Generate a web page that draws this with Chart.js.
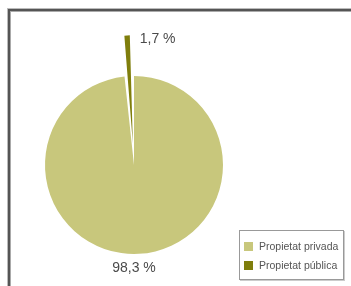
<!DOCTYPE html>
<html><head><meta charset="utf-8">
<script src="https://cdn.jsdelivr.net/npm/chart.js@4"></script>
<style>
html,body{margin:0;padding:0;background:#fff;overflow:hidden}
#wrap{position:relative;width:351px;height:286px}
#frame{position:absolute;left:8px;top:9px;width:400px;height:400px;border:2px solid #555;box-shadow:-1px -1px 0 #bbb, inset 1px 1px 0 #aaa}
canvas{position:absolute;left:0;top:0}
#legend{position:absolute;left:239px;top:230px;width:103px;height:48px;border:1px solid #999;box-shadow:1px 1px 0 #ccc;font-family:"Liberation Sans",Arial,sans-serif;font-size:10.5px;color:#555}
.row{position:absolute;left:4px;height:12px;line-height:12px;white-space:nowrap}
.sw{display:inline-block;width:9px;height:9px;vertical-align:-1px;margin-right:6px}
</style></head>
<body><div id="wrap"><div id="frame"></div><canvas id="c" width="351" height="286"></canvas>
<div id="legend"></div></div>
<script>
const categories = ["Propietat privada", "Propietat pública"];
const values = [98.3, 1.7];
const valueLabels = ["98,3 %", "1,7 %"];
const colors = ["#c8c77c", "#7f7e0c"];

const lg = document.getElementById('legend');
categories.forEach((c,i)=>{
  const d=document.createElement('div');d.className='row';d.style.top=(9+i*19)+'px';
  d.innerHTML='<span class="sw" style="background:'+colors[i]+'"></span>'+c;
  lg.appendChild(d);
});

const labelPlugin = {
  id:'lbl',
  afterDatasetsDraw(chart){
    const ctx=chart.ctx;const meta=chart.getDatasetMeta(0);
    ctx.save();ctx.font='14px "Liberation Sans", Arial, sans-serif';ctx.fillStyle='#4a4a4a';ctx.textBaseline='middle';
    meta.data.forEach((arc,i)=>{
      const p=arc.getProps(['x','y','startAngle','endAngle','outerRadius'],true);
      const off=(arc.options.offset||0)/2;
      const mid=(p.startAngle+p.endAngle)/2;
      const ox=Math.cos(mid)*off, oy=Math.sin(mid)*off;
      if(i===0){
        ctx.textAlign='center';
        const r=p.outerRadius+14;
        ctx.fillText(valueLabels[i], p.x, p.y+Math.sin(mid)*r);
      } else {
        ctx.textAlign='left';
        const ex=p.x+ox+Math.cos(p.endAngle)*p.outerRadius, ey=p.y+oy+Math.sin(p.endAngle)*p.outerRadius;
        ctx.fillText(valueLabels[i], ex+8, ey+6);
      }
    });
    ctx.restore();
  }
};

new Chart(document.getElementById('c'),{
  type:'pie',
  data:{labels:categories,datasets:[{data:values,backgroundColor:colors,borderWidth:0,offset:[0,86]}]},
  options:{responsive:false,animation:false,radius:89,
    layout:{padding:{left:0,right:83,top:44,bottom:0}},
    plugins:{legend:{display:false},tooltip:{enabled:false}}},
  plugins:[labelPlugin]
});
</script></body></html>
